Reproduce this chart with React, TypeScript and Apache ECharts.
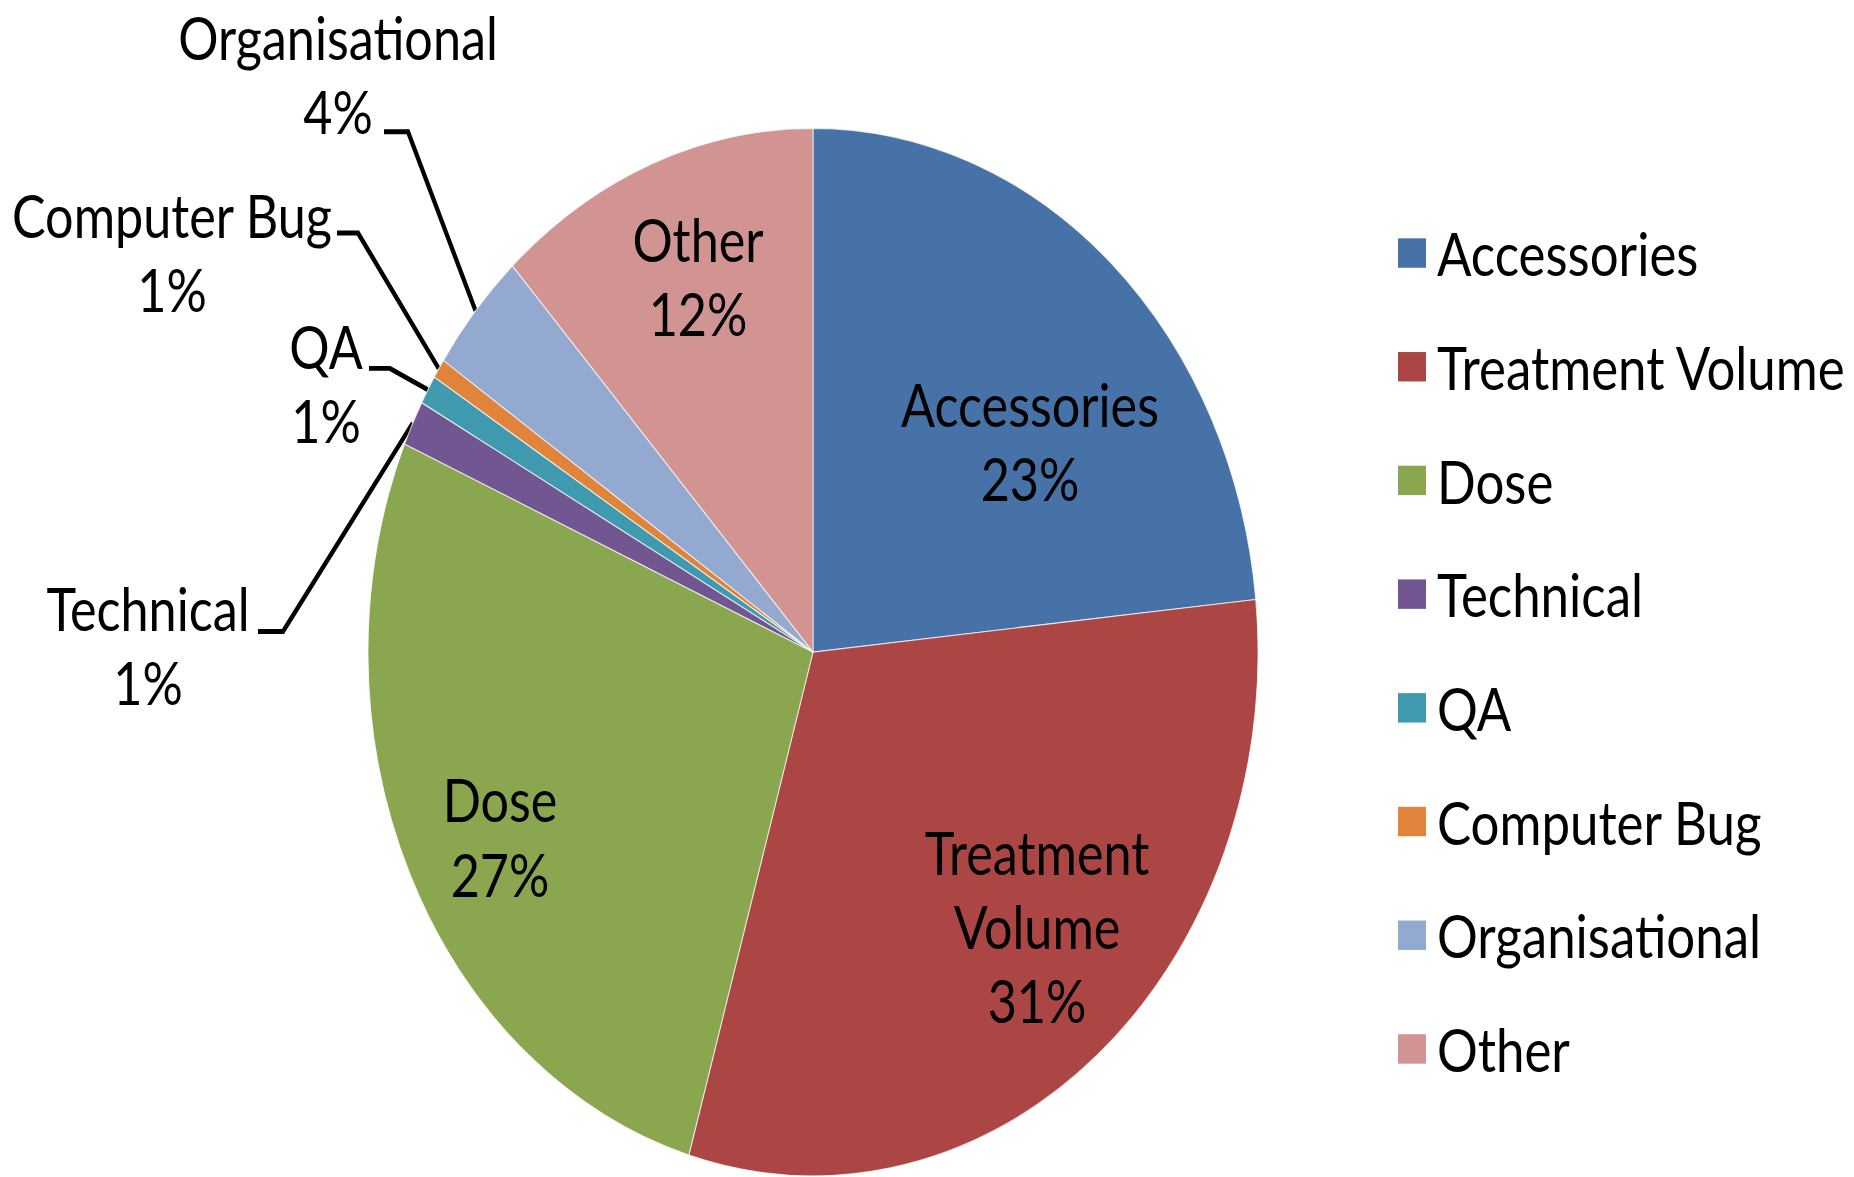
import React, { useEffect, useRef } from "react";
import * as echarts from "echarts";

// ---- data ----
const categories = [
  "Accessories",
  "Treatment Volume",
  "Dose",
  "Technical",
  "QA",
  "Computer Bug",
  "Organisational",
  "Other",
];
const values = [23.4, 31.1, 27.0, 1.4, 0.9, 0.6, 3.8, 11.8];
const labelText = [
  "Accessories",
  "Treatment\nVolume",
  "Dose",
  "Technical",
  "QA",
  "Computer Bug",
  "Organisational",
  "Other",
];

// ---- styles / layout (in unstretched chart px) ----
const colors = ["#4672A8", "#AB4644", "#8AA64F", "#725692", "#3F9AB0", "#E0843C", "#93A9D0", "#D29393"];
const outsideLabel = [false, false, false, true, true, true, true, false];
const SY = 1.177; // vertical stretch of the whole picture
const W = 1854;
const H = 1177;
const innerH = H / SY;
const labelPos: [number, number][] = [
  [1030, 375],
  [1037, 787],
  [500, 711],
  [148, 548.5],
  [326, 325.5],
  [172, 214.5],
  [338, 63.5],
  [698, 234.5],
];
// [labelAttachX, bendX, y]
const leader: Record<number, [number, number, number]> = {
  3: [258, 283, 536.5],
  4: [369, 390, 313],
  5: [337, 358, 198],
  6: [384, 408, 112],
};
const FONT = "Lato";
const FS = 50.3;
const LEGEND_FS = 51;

export default function App() {
  const ref = useRef<HTMLDivElement>(null);
  useEffect(() => {
    if (!ref.current) return;
    const chart = echarts.init(ref.current, undefined, { renderer: "svg" });
    const data = categories.map((name, i) => ({
      name,
      value: values[i],
      itemStyle: { color: colors[i] },
      label: { position: outsideLabel[i] ? "outside" : "inside" },
      labelLine: { show: outsideLabel[i] },
    }));
    chart.setOption({
      animation: false,
      backgroundColor: "#ffffff",
      legend: {
        orient: "vertical",
        left: 1393,
        top: 180,
        itemWidth: 28,
        itemHeight: 25,
        itemGap: 36.6,
        icon: "rect",
        itemStyle: { borderWidth: 0 },
        textStyle: {
          fontFamily: FONT,
          fontSize: LEGEND_FS,
          lineHeight: 60,
          color: "#000",
          padding: [0, 0, 0, 6],
        },
        data: categories,
      },
      series: [
        {
          type: "pie",
          center: [813, 554],
          radius: 445,
          startAngle: 90,
          clockwise: true,
          avoidLabelOverlap: false,
          percentPrecision: 1,
          itemStyle: { borderColor: "rgba(255,255,255,0.7)", borderWidth: 1 },
          label: {
            show: true,
            fontFamily: FONT,
            fontSize: FS,
            lineHeight: 63,
            color: "#000",
            align: "center",
            formatter: (p: any) => `${labelText[p.dataIndex]}\n${Math.round(p.percent)}%`,
          },
          labelLine: {
            show: true,
            length: 20,
            length2: 20,
            lineStyle: { color: "#000", width: 4.2 },
          },
          labelLayout: (p: any) => {
            const i = p.dataIndex;
            const [x, y] = labelPos[i];
            const res: any = { x, y, align: "center", verticalAlign: "middle" };
            if (leader[i] && p.labelLinePoints) {
              const [ax, bx, ly] = leader[i];
              res.labelLinePoints = [p.labelLinePoints[0], [bx, ly], [ax, ly]];
            }
            return res;
          },
          emphasis: { disabled: true },
          data,
        },
      ],
    });
    return () => chart.dispose();
  }, []);
  return (
    <div style={{ position: "absolute", left: 0, top: 0, width: W, height: H, overflow: "hidden", background: "#fff" }}>
      <div
        ref={ref}
        style={{
          width: W,
          height: innerH,
          transform: `scaleY(${SY})`,
          transformOrigin: "0 0",
        }}
      />
    </div>
  );
}
